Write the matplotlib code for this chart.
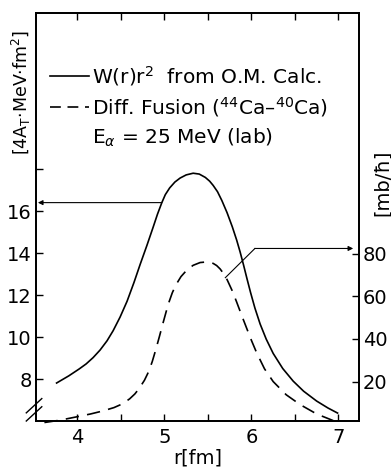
import numpy as np
import matplotlib.pyplot as plt

plt.rcParams['font.family'] = 'DejaVu Sans'
plt.rcParams['mathtext.fontset'] = 'dejavusans'

# W(r) r^2 from optical model calculation (left axis)
r_w = [3.76, 3.90, 4.02, 4.10, 4.18, 4.26, 4.34, 4.41, 4.49, 4.57, 4.65, 4.72,
       4.80, 4.87, 4.92, 4.97, 5.01, 5.06, 5.12, 5.18, 5.25, 5.33, 5.40, 5.47,
       5.52, 5.56, 5.61, 5.66, 5.72, 5.78, 5.83, 5.87, 5.91, 5.95, 5.99, 6.04,
       6.10, 6.17, 6.25, 6.36, 6.48, 6.60, 6.75, 6.88, 6.99]
w_r2 = [7.81, 8.15, 8.48, 8.72, 9.02, 9.38, 9.82, 10.30, 10.95, 11.70, 12.60, 13.45,
        14.38, 15.23, 15.85, 16.40, 16.78, 17.10, 17.38, 17.57, 17.72, 17.80, 17.76, 17.60,
        17.42, 17.22, 16.92, 16.50, 15.92, 15.25, 14.62, 14.05, 13.42, 12.76, 12.12, 11.38,
        10.62, 9.90, 9.22, 8.50, 7.90, 7.42, 6.95, 6.62, 6.38]

# differential fusion 44Ca-40Ca (right axis)
r_d = [3.62, 3.80, 4.02, 4.15, 4.29, 4.42, 4.52, 4.60, 4.66, 4.71, 4.77, 4.82,
       4.86, 4.90, 4.94, 4.98, 5.02, 5.05, 5.09, 5.13, 5.19, 5.26, 5.33, 5.41,
       5.49, 5.56, 5.60, 5.64, 5.68, 5.72, 5.78, 5.83, 5.89, 5.95, 6.00, 6.06,
       6.15, 6.25, 6.40, 6.56, 6.75, 6.94]
fus = [0.8, 1.9, 3.7, 4.8, 6.2, 7.8, 9.6, 11.9, 14.2, 16.8, 20.6, 24.8,
       29.4, 34.9, 40.8, 46.9, 52.8, 57.0, 61.6, 65.2, 69.2, 72.4, 74.5, 75.8,
       76.1, 75.4, 74.4, 72.8, 70.6, 67.8, 62.5, 57.3, 50.8, 44.5, 39.3, 33.5,
       26.0, 20.0, 13.8, 9.2, 4.8, 1.7]

xticks = [4, 4.5, 5, 5.5, 6, 6.5, 7]
xlabels = ['4', '', '5', '', '6', '', '7']
lticks = [8, 10, 12, 14, 16, 18]
llabels = ['8', '10', '12', '14', '16', '']
rticks = [20, 40, 60, 80]

fig = plt.figure(figsize=(3.91, 4.69), dpi=100)
ax = fig.add_axes([0.092, 0.1023, 0.826, 0.870])
ax2 = ax.twinx()

ax.plot(r_w, w_r2, color='black', lw=1.2)
ax2.plot(r_d, fus, color='black', lw=1.2, ls=(0, (8, 5)), clip_on=False)

ax.set_xlim(3.523, 7.236)
ax.set_ylim(6, 25.43)
ax2.set_ylim(1.5, 192.8)

ax.set_xticks(xticks)
ax.set_xticklabels(xlabels)
ax.set_yticks(lticks)
ax.set_yticklabels(llabels)
ax2.set_yticks(rticks)

fs = 14
ax.tick_params(axis='x', direction='in', top=True, length=5, width=1, labelsize=fs, pad=5)
ax.tick_params(axis='y', direction='in', length=5, width=1, labelsize=fs, pad=3)
ax2.tick_params(axis='y', direction='in', length=5, width=1, labelsize=fs, pad=3)
for a in (ax, ax2):
    for s in a.spines.values():
        s.set_linewidth(1.3)

ax.set_xlabel('r[fm]', fontsize=fs, labelpad=1)
fig.text(0.056, 0.802, '[4A$_\\mathrm{T}$·MeV·fm$^2$]', rotation=90, fontsize=12.5,
         ha='center', va='center')
fig.text(0.978, 0.61, '[mb/ħ]', rotation=90, fontsize=fs, ha='center', va='center')

# legend drawn by hand
ax.plot([0.043, 0.164], [0.845, 0.845], transform=ax.transAxes, color='black', lw=1.2)
ax.plot([0.043, 0.164], [0.769, 0.769], transform=ax.transAxes, color='black', lw=1.2,
        ls=(0, (6.5, 4)))
lfs = 14.5
ax.text(0.172, 0.845, 'W(r)r$^2$  from O.M. Calc.', transform=ax.transAxes,
        fontsize=lfs, va='center')
ax.text(0.172, 0.769, 'Diff. Fusion ($^{44}$Ca–$^{40}$Ca)', transform=ax.transAxes,
        fontsize=lfs, va='center')
ax.text(0.172, 0.695, 'E$_\\alpha$ = 25 MeV (lab)', transform=ax.transAxes,
        fontsize=lfs, va='center')

# arrows pointing to the axes
ax.annotate('', xy=(3.545, w_r2[15]), xytext=(r_w[15], w_r2[15]),
            arrowprops=dict(arrowstyle='-|>', color='black', lw=0.8, mutation_scale=7,
                            shrinkA=0, shrinkB=0))
ax2.plot([5.70, 6.04], [68.7, 82.4], color='black', lw=0.8)
ax2.annotate('', xy=(7.17, 82.4), xytext=(6.04, 82.4),
             arrowprops=dict(arrowstyle='-|>', color='black', lw=0.8, mutation_scale=7,
                             shrinkA=0, shrinkB=0))

# axis break marks
for dy in (0.0, 0.02):
    ax.plot([-0.03, 0.018], [0.0 + dy, 0.035 + dy], transform=ax.transAxes,
            color='black', lw=1.0, clip_on=False)

fig.savefig('out.png', dpi=100)
